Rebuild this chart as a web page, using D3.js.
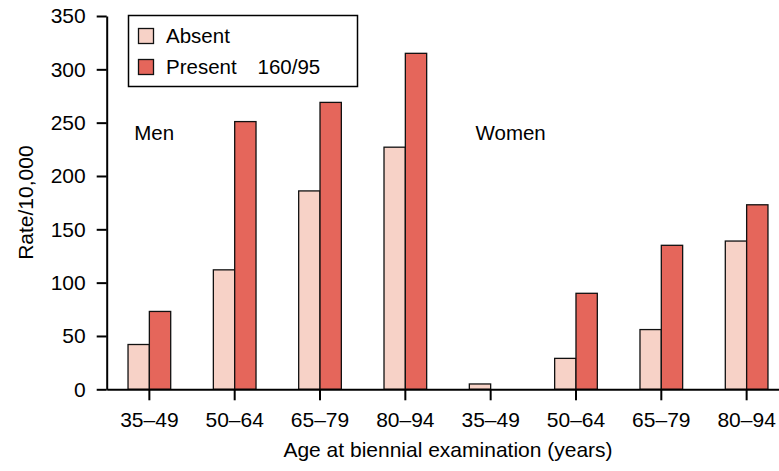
<!DOCTYPE html>
<html>
<head>
<meta charset="utf-8">
<script src="https://cdn.jsdelivr.net/npm/d3@7"></script>
<style>
  html, body { margin: 0; padding: 0; background: #fff; }
  svg { display: block; font-family: "Liberation Sans", Arial, Helvetica, sans-serif; }
</style>
</head>
<body>
<svg id="chart" width="779" height="471"></svg>
<script>
// ---- data ----
const ageGroups = ["35\u201349", "50\u201364", "65\u201379", "80\u201394"];
const sexes = ["Men", "Women"];
const menAbsent = [42, 112, 186, 227];
const menPresent = [73, 251, 269, 315];
const womenAbsent = [5, 29, 56, 139];
const womenPresent = [null, 90, 135, 173];
const yTicks = [0, 50, 100, 150, 200, 250, 300, 350];
const seriesNames = ["Absent", "Present"];
const legendExtra = "160/95";
const xTitle = "Age at biennial examination (years)";
const yTitle = "Rate/10,000";

const colors = { Absent: "#F7D2C7", Present: "#E5665B" };

// build rows
const rows = [];
sexes.forEach((s, si) => {
  const a = si === 0 ? menAbsent : womenAbsent;
  const p = si === 0 ? menPresent : womenPresent;
  ageGroups.forEach((g, gi) => {
    rows.push({ key: s + "|" + g, sex: s, group: g, Absent: a[gi], Present: p[gi] });
  });
});

const svg = d3.select("#chart");

const x = d3.scaleBand()
  .domain(rows.map(d => d.key))
  .range([106.7, 789.3])
  .paddingInner(0).paddingOuter(0);

const xi = d3.scaleBand()
  .domain(seriesNames)
  .range([0, x.bandwidth()])
  .paddingInner(0).paddingOuter(1);

const y = d3.scaleLinear().domain([0, 350]).range([389.3, 16]);

// bars
const g = svg.append("g");
rows.forEach(r => {
  seriesNames.forEach(s => {
    const v = r[s];
    if (v === null || v === undefined) return;
    g.append("rect")
      .attr("x", x(r.key) + xi(s))
      .attr("y", y(v))
      .attr("width", xi.bandwidth())
      .attr("height", y(0) - y(v))
      .attr("fill", colors[s])
      .attr("stroke", "#111")
      .attr("stroke-width", 1.3);
  });
});

const FF = '"Liberation Sans", Arial, sans-serif';

// y axis
const yAxis = svg.append("g")
  .attr("transform", `translate(${x.range()[0]},0)`)
  .call(d3.axisLeft(y).tickValues(yTicks).tickSize(10).tickSizeOuter(0).tickPadding(11));
yAxis.selectAll("path, line").attr("stroke", "#000").attr("stroke-width", 2);
yAxis.selectAll("text").attr("font-size", 21).attr("fill", "#000").attr("font-family", FF);

// x axis
const xAxis = svg.append("g")
  .attr("transform", `translate(0,${y(0)})`)
  .call(d3.axisBottom(x).tickSize(11).tickSizeOuter(0).tickPadding(12)
    .tickFormat(k => k.split("|")[1]));
xAxis.selectAll("path, line").attr("stroke", "#000").attr("stroke-width", 2);
xAxis.selectAll("text").attr("font-size", 21).attr("fill", "#000").attr("font-family", FF);

// group labels
sexes.forEach(s => {
  svg.append("text")
    .attr("x", x(s + "|" + ageGroups[0]) + 27.5)
    .attr("y", y(250) + 17.5)
    .attr("font-size", 20.5)
    .attr("fill", "#000")
    .text(s);
});

// axis titles
svg.append("text")
  .attr("x", (x.range()[0] + x.range()[1]) / 2)
  .attr("y", 457)
  .attr("text-anchor", "middle")
  .attr("font-size", 21)
  .attr("fill", "#000")
  .text(xTitle);

svg.append("text")
  .attr("transform", `translate(33,${(y(0) + y(350)) / 2}) rotate(-90)`)
  .attr("text-anchor", "middle")
  .attr("font-size", 21)
  .attr("fill", "#000")
  .text(yTitle);

// legend
const lg = svg.append("g");
lg.append("rect")
  .attr("x", 128.5).attr("y", 15.5)
  .attr("width", 229).attr("height", 71)
  .attr("fill", "#fff").attr("stroke", "#000").attr("stroke-width", 1.5);
seriesNames.forEach((s, i) => {
  const yy = 28.5 + i * 31;
  lg.append("rect")
    .attr("x", 138.5).attr("y", yy)
    .attr("width", 15).attr("height", 15)
    .attr("fill", colors[s]).attr("stroke", "#111").attr("stroke-width", 1.3);
  lg.append("text")
    .attr("x", 166).attr("y", yy + 14.3)
    .attr("font-size", 20.5).attr("fill", "#000")
    .text(s);
  if (i === 1) {
    lg.append("text")
      .attr("x", 257.5).attr("y", yy + 14.3)
      .attr("font-size", 20.5).attr("fill", "#000")
      .text(legendExtra);
  }
});
</script>
</body>
</html>
